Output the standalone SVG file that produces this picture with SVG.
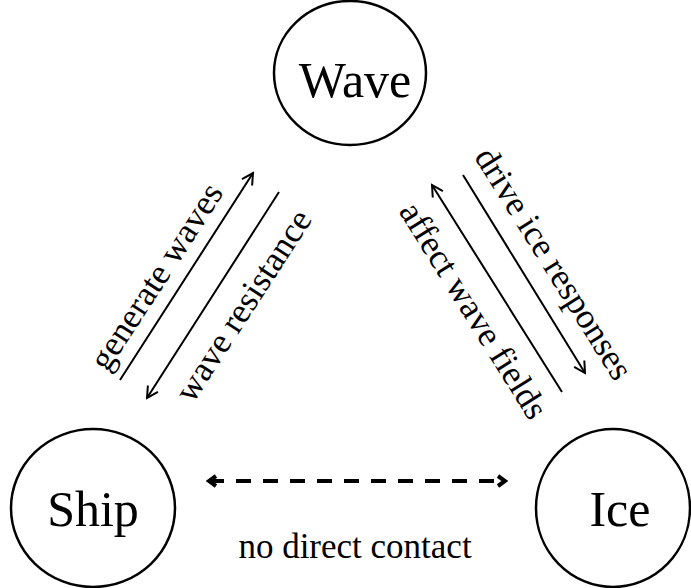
<svg xmlns="http://www.w3.org/2000/svg" width="691" height="588" viewBox="0 0 691 588">
<defs>
<style>
.node{fill:#fff;stroke:#000;stroke-width:2.5}
.nlabel{font-family:"Liberation Serif","Times New Roman",serif;font-size:50px;fill:#000;text-anchor:middle}
.elabel{font-family:"Liberation Serif","Times New Roman",serif;font-size:35px;fill:#000;text-anchor:middle}
.edge{stroke:#000;stroke-width:2;fill:none}
.dash{stroke:#000;stroke-width:4;fill:none;stroke-dasharray:15 12}
</style>
<marker id="arr" markerUnits="userSpaceOnUse" markerWidth="16" markerHeight="16" viewBox="0 0 16 16" refX="14" refY="8" orient="auto">
<path d="M3,2 L14,8 L3,14" fill="none" stroke="#000" stroke-width="2"/>
</marker>
<marker id="arrB" markerUnits="userSpaceOnUse" markerWidth="16" markerHeight="16" viewBox="0 0 16 16" refX="13" refY="8" orient="auto-start-reverse">
<path d="M6,3 L13,8 L6,13" fill="none" stroke="#000" stroke-width="4"/>
</marker>
</defs>
<g id="wave">
<ellipse class="node" cx="350" cy="73" rx="76" ry="72"/>
<text class="nlabel" x="355" y="97">Wave</text>
</g>
<g id="ship">
<ellipse class="node" cx="93" cy="508" rx="82" ry="79"/>
<text class="nlabel" x="93" y="526">Ship</text>
</g>
<g id="ice">
<ellipse class="node" cx="613" cy="508" rx="77" ry="79"/>
<text class="nlabel" x="620" y="526">Ice</text>
</g>
<g id="connectors">
<line class="edge" x1="120" y1="380" x2="253" y2="173" marker-end="url(#arr)"/>
<line class="edge" x1="279" y1="192" x2="147" y2="398" marker-end="url(#arr)"/>
<line class="edge" x1="463" y1="175" x2="585" y2="373" marker-end="url(#arr)"/>
<line class="edge" x1="562" y1="392" x2="432" y2="185" marker-end="url(#arr)"/>
<line class="dash" x1="209" y1="481" x2="505" y2="481" marker-start="url(#arrB)" marker-end="url(#arrB)"/>
<text class="elabel" transform="translate(157,277) rotate(-57)" dy="0.3em">generate waves</text>
<text class="elabel" transform="translate(244,306) rotate(-57)" dy="0.3em">wave resistance</text>
<text class="elabel" transform="translate(553,264) rotate(58)" dy="0.3em">drive ice responses</text>
<text class="elabel" transform="translate(473,311) rotate(58)" dy="0.3em">affect wave fields</text>
<text class="elabel" x="355" y="558">no direct contact</text>
</g>
</svg>
